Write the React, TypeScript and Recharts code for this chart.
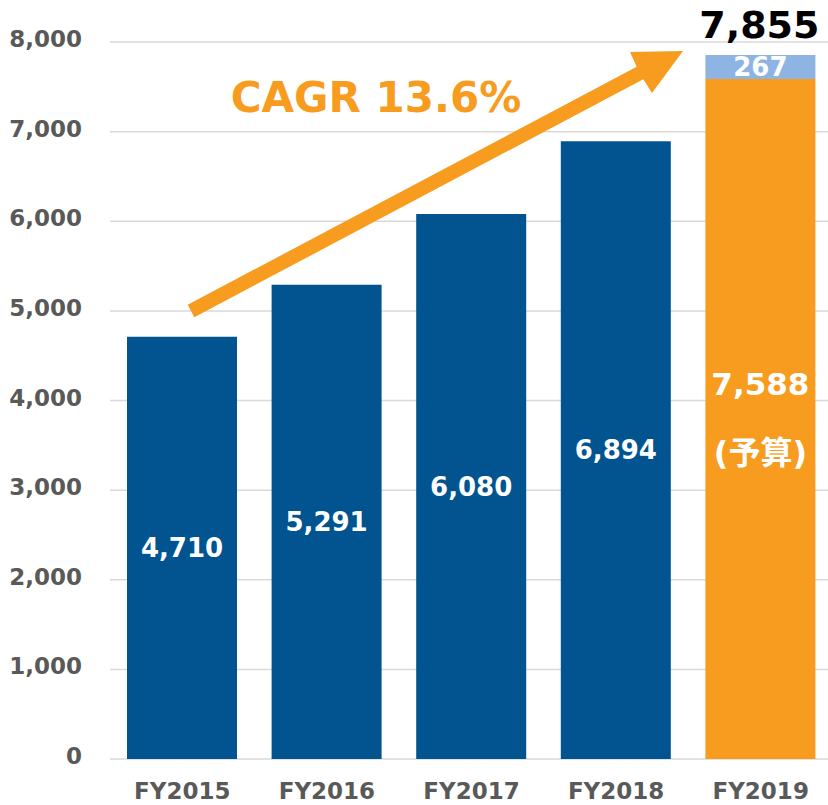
import React from 'react';
import { BarChart, Bar, XAxis, YAxis, CartesianGrid, LabelList } from 'recharts';

const categories = ['FY2015', 'FY2016', 'FY2017', 'FY2018', 'FY2019'];
const actualValues = [4710, 5291, 6080, 6894, null];
const budgetValues = [null, null, null, null, 7588];
const upsideValues = [null, null, null, null, 267];
const yTicks = [0, 1000, 2000, 3000, 4000, 5000, 6000, 7000, 8000];
const cagrLabel = 'CAGR 13.6%';
const budgetNote = '(予算)';

const BLUE = '#01548F';
const ORANGE = '#F79C1E';
const LIGHT_BLUE = '#8DB4E2';
const TICK_GREY = '#595959';
const FONT = '"DejaVu Sans", Verdana, "Noto Sans CJK JP", sans-serif';

const data = categories.map((name, i) => ({
  name,
  actual: actualValues[i],
  budget: budgetValues[i],
  upside: upsideValues[i],
  total: budgetValues[i] != null ? (budgetValues[i] ?? 0) + (upsideValues[i] ?? 0) : null,
}));

const fmt = (v: number) => v.toLocaleString('en-US');

const YTick = (props: any) => {
  const { x, y, payload } = props;
  return (
    <text x={x - 28} y={y + 5} textAnchor="end" fill={TICK_GREY} fontSize={23} fontWeight="bold" fontFamily={FONT}>
      {fmt(payload.value)}
    </text>
  );
};

const XTick = (props: any) => {
  const { x, y, payload } = props;
  return (
    <text x={x} y={y + 40} textAnchor="middle" fill={TICK_GREY} fontSize={23} fontWeight="bold" fontFamily={FONT}>
      {payload.value}
    </text>
  );
};

const CenterLabel = (props: any) => {
  const { x, y, width, height, value } = props;
  if (value == null) return null;
  return (
    <text x={x + width / 2} y={y + height / 2 + 9} textAnchor="middle" fill="#fff" fontSize={26} fontWeight="bold" fontFamily={FONT}>
      {fmt(value)}
    </text>
  );
};

const BudgetLabel = (props: any) => {
  const { x, y, width, height, value } = props;
  if (value == null) return null;
  const cx = x + width / 2;
  const mid = y + height / 2;
  return (
    <g fontFamily={FONT} fontWeight="bold" fill="#fff" textAnchor="middle">
      <text x={cx} y={mid - 24} fontSize={31}>{fmt(value)}</text>
      <text x={cx} y={mid + 45} fontSize={32}>{budgetNote}</text>
    </g>
  );
};

const TotalLabel = (props: any) => {
  const { x, y, width, value } = props;
  if (value == null) return null;
  return (
    <text x={x + width / 2 - 1} y={y - 17} textAnchor="middle" fill="#000" fontSize={38} fontWeight="bold" fontFamily={FONT}>
      {fmt(value)}
    </text>
  );
};

export default function App() {
  return (
    <div style={{ position: 'absolute', left: 0, top: 0, width: 828, height: 805, overflow: 'hidden', background: '#fff' }}>
      <BarChart
        width={840}
        height={805}
        data={data}
        margin={{ top: 42, right: 7, left: 0, bottom: 0 }}
      >
        <CartesianGrid vertical={false} stroke="#D9D9D9" strokeWidth={1.5} />
        <XAxis
          dataKey="name"
          height={46}
          axisLine={false}
          tickLine={false}
          tickSize={0}
          tickMargin={0}
          tick={<XTick />}
          interval={0}
        />
        <YAxis
          width={110}
          domain={[0, 8000]}
          ticks={yTicks}
          axisLine={false}
          tickLine={false}
          tickSize={0}
          tickMargin={0}
          tick={<YTick />}
          interval={0}
        />
        <Bar dataKey="actual" stackId="a" fill={BLUE} barSize={110} isAnimationActive={false}>
          <LabelList dataKey="actual" content={<CenterLabel />} />
        </Bar>
        <Bar dataKey="budget" stackId="a" fill={ORANGE} barSize={110} isAnimationActive={false}>
          <LabelList dataKey="budget" content={<BudgetLabel />} />
        </Bar>
        <Bar dataKey="upside" stackId="a" fill={LIGHT_BLUE} barSize={110} isAnimationActive={false}>
          <LabelList dataKey="upside" content={<CenterLabel />} />
          <LabelList dataKey="total" content={<TotalLabel />} />
        </Bar>
      </BarChart>
      <svg width={828} height={805} style={{ position: 'absolute', left: 0, top: 0, pointerEvents: 'none' }}>
        <polygon
          points="187.7,304.8 636.7,66.8 630,52 683,51 652,93 643.3,79.2 194.3,317.2"
          fill={ORANGE}
        />
        <text x={376} y={112} textAnchor="middle" fill={ORANGE} fontSize={42} fontWeight="bold" fontFamily={FONT}>
          {cagrLabel}
        </text>
      </svg>
    </div>
  );
}
